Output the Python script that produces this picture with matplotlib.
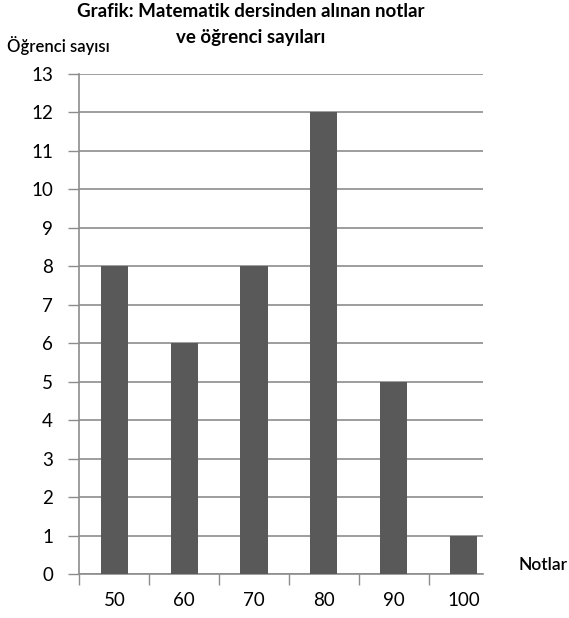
import matplotlib.pyplot as plt
import numpy as np

notlar = ["50", "60", "70", "80", "90", "100"]
ogrenci = [8, 6, 8, 12, 5, 1]
y_ticks = list(range(0, 14))

plt.rcParams["font.family"] = ["Lato", "DejaVu Sans"]

fig = plt.figure(figsize=(5.69, 6.18), dpi=100)
ax = fig.add_axes([0.1397, 0.0712, 0.849 - 0.1397, 0.881 - 0.0712])

x = np.arange(len(notlar))
ax.bar(x, ogrenci, width=0.39, color="#595959", zorder=3)

ax.set_ylim(0, 13)
ax.set_xlim(-0.5, 5.28)
ax.set_yticks(y_ticks)
ax.set_yticklabels([str(v) for v in y_ticks], fontsize=13.5)
ax.yaxis.grid(True, color="#8c8c8c", linewidth=1.2, zorder=0)

# category boundaries as ticks, labels in the middle
ax.set_xticks(np.arange(-0.5, len(notlar) - 0.5, 1.0))
ax.set_xticklabels([])
ax.set_xticks(x, minor=True)
ax.set_xticklabels(notlar, minor=True, fontsize=13.5)
ax.tick_params(axis="x", which="major", length=8, width=1, color="#8c8c8c", direction="out")
ax.tick_params(axis="x", which="minor", length=0, pad=13)
ax.tick_params(axis="y", length=8, width=1, color="#8c8c8c", pad=11)

for side in ["top", "right"]:
    ax.spines[side].set_visible(False)
for side in ["left", "bottom"]:
    ax.spines[side].set_color("#8c8c8c")
    ax.spines[side].set_linewidth(1.2)

fig.text(0.44, 0.982, "Grafik: Matematik dersinden alınan notlar",
         ha="center", va="center", fontsize=13.5, fontweight="bold")
fig.text(0.44, 0.940, "ve öğrenci sayıları",
         ha="center", va="center", fontsize=13.5, fontweight="bold")
fig.text(0.012, 0.927, "Öğrenci sayısı", ha="left", va="center", fontsize=12,
         fontweight="semibold")
fig.text(0.954, 0.086, "Notlar", ha="center", va="center", fontsize=12.5,
         fontweight="semibold")

fig.savefig("out.png", dpi=100)
